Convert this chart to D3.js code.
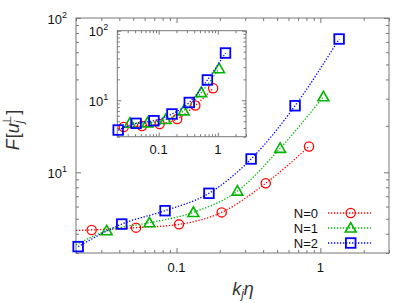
<!DOCTYPE html>
<html><head><meta charset="utf-8">
<script src="https://cdn.jsdelivr.net/npm/d3@7"></script>
<style>
body{margin:0;background:#fff;}
svg{display:block;}
text{font-family:"Liberation Sans",Arial,sans-serif;}
</style></head>
<body>
<svg id="c" width="399" height="303"></svg>
<script>
// ---- data ----
const seriesNames = ["N=0", "N=1", "N=2"];
const kN0 = [0.0257, 0.0523, 0.104, 0.206, 0.417, 0.834];
const FN0 = [4.23, 4.38, 4.60, 5.50, 8.49, 14.7];
const kN1 = [0.0327, 0.0648, 0.131, 0.265, 0.525, 1.05];
const FN1 = [4.18, 4.71, 5.50, 7.56, 14.3, 30.9];
const kN2 = [0.0207, 0.0416, 0.0832, 0.168, 0.330, 0.667, 1.35];
const FN2 = [3.30, 4.62, 5.64, 7.31, 12.2, 27.0, 73.1];
// left-edge start of the dotted curves in the main panel
const lineStartK = 0.02;
const lineStartN0 = 4.2;
const lineStartN1 = 3.4;
// inset values
const insetFN0 = [4.13, 4.27, 4.56, 5.39, 8.42, 14.9];
const insetFN1 = [4.70, 4.75, 5.30, 7.06, 12.9, 28.5];
const insetFN2 = [3.74, 4.67, 5.09, 6.36, 9.30, 19.6, 47.8];
// ticks
const xMajor = [0.1, 1];
const xMajorLabels = ["0.1", "1"];
const xMinor = [0.02,0.03,0.04,0.05,0.06,0.07,0.08,0.09,0.2,0.3,0.4,0.5,0.6,0.7,0.8,0.9,2,3];
const yMajor = [10, 100];
const yMajorExp = ["1", "2"];
const yMinor = [3,4,5,6,7,8,9,20,30,40,50,60,70,80,90];

const colors = ["#ff0000", "#00b400", "#0000ff"];
const shapes = ["circle", "triangle", "square"];

const svg = d3.select("#c");

const x = d3.scaleLog().domain([0.02, 3]).range([76, 389]);
const y = d3.scaleLog().domain([3, 100]).range([253, 18]);
const xi = d3.scaleLog().domain([0.02, 3]).range([117.3, 246]);
const yi = d3.scaleLog().domain([3, 100]).range([136.7, 30.7]);

function frame(g, xs, ys, major, minor) {
  const [x0, x1] = xs.range(), [y0, y1] = ys.range();
  g.append("rect").attr("x", x0).attr("y", y1).attr("width", x1 - x0).attr("height", y0 - y1)
    .attr("fill", "#fff").attr("stroke", "none");
  const mk = (axisFn, scale, vals, size, tr) => {
    const a = g.append("g").attr("transform", tr)
      .call(axisFn(scale).tickValues(vals).tickSize(size).tickFormat(""));
    a.select(".domain").remove();
    a.selectAll("line").attr("stroke", "#777").attr("stroke-width", 1);
  };
  mk(d3.axisBottom, xs, xMajor, -major, `translate(0,${y0})`);
  mk(d3.axisBottom, xs, xMinor, -minor, `translate(0,${y0})`);
  mk(d3.axisTop, xs, xMajor, -major, `translate(0,${y1})`);
  mk(d3.axisTop, xs, xMinor, -minor, `translate(0,${y1})`);
  mk(d3.axisLeft, ys, yMajor, -major, `translate(${x0},0)`);
  mk(d3.axisLeft, ys, yMinor, -minor, `translate(${x0},0)`);
  mk(d3.axisRight, ys, yMajor, -major, `translate(${x1},0)`);
  mk(d3.axisRight, ys, yMinor, -minor, `translate(${x1},0)`);
  g.append("rect").attr("x", x0).attr("y", y1).attr("width", x1 - x0).attr("height", y0 - y1)
    .attr("fill", "none").attr("stroke", "#777").attr("stroke-width", 1);
  xMajor.forEach((v, i) => {
    g.append("text").attr("x", xs(v)).attr("y", y0 + (xs === x ? 19 : 17))
      .attr("text-anchor", "middle").attr("font-size", 13).attr("fill", "#111").text(xMajorLabels[i]);
  });
  yMajor.forEach((v, i) => {
    const t = g.append("text").attr("x", x0 - 9).attr("y", ys(v) + 5.5)
      .attr("text-anchor", "end").attr("font-size", 13).attr("fill", "#111");
    t.append("tspan").text("10");
    t.append("tspan").attr("font-size", 9).attr("dy", -6).text(yMajorExp[i]);
  });
}

function marker(g, shape, cx, cy, color) {
  if (shape === "circle") {
    g.append("circle").attr("cx", cx).attr("cy", cy).attr("r", 4.6)
      .attr("fill", "none").attr("stroke", color).attr("stroke-width", 1.3);
  } else if (shape === "square") {
    g.append("rect").attr("x", cx - 4.8).attr("y", cy - 4.8).attr("width", 9.6).attr("height", 9.6)
      .attr("fill", "none").attr("stroke", color).attr("stroke-width", 1.8);
  } else {
    const s = 5.4;
    g.append("path").attr("d", `M${cx},${cy - s}L${cx + s},${cy + s * 0.75}L${cx - s},${cy + s * 0.75}Z`)
      .attr("fill", "none").attr("stroke", color).attr("stroke-width", 1.6);
  }
}

function drawSeries(g, xs, ys, ks, Fs, color, shape, start, clipId) {
  const pts = ks.map((k, i) => [k, Fs[i]]);
  const linePts = start != null ? [[lineStartK, start]].concat(pts) : pts;
  const line = d3.line().x(d => xs(d[0])).y(d => ys(d[1])).curve(d3.curveMonotoneX);
  g.append("path").attr("d", line(linePts)).attr("fill", "none").attr("stroke", color)
    .attr("stroke-width", 1.3).attr("stroke-dasharray", "1.3 1.7")
    .attr("clip-path", clipId ? `url(#${clipId})` : null);
  pts.forEach(p => marker(g, shape, xs(p[0]), ys(p[1]), color));
}

svg.append("clipPath").attr("id", "mclip").append("rect")
  .attr("x", 76).attr("y", 18).attr("width", 313).attr("height", 235);

const main = svg.append("g");
frame(main, x, y, 5, 3);
const mainData = [[kN0, FN0, lineStartN0], [kN1, FN1, lineStartN1], [kN2, FN2, null]];
mainData.forEach((d, i) => drawSeries(main, x, y, d[0], d[1], colors[i], shapes[i], d[2], "mclip"));

const inset = svg.append("g");
frame(inset, xi, yi, 4, 2.5);
const insetData = [[kN0, insetFN0], [kN1, insetFN1], [kN2, insetFN2]];
insetData.forEach((d, i) => drawSeries(inset, xi, yi, d[0], d[1], colors[i], shapes[i], null, null));

// legend
const legY = [213, 228, 243];
seriesNames.forEach((n, i) => {
  svg.append("text").attr("x", 318).attr("y", legY[i] + 4.7).attr("text-anchor", "end")
    .attr("font-size", 13).attr("fill", "#111").text(n);
  svg.append("line").attr("x1", 328).attr("x2", 371).attr("y1", legY[i]).attr("y2", legY[i])
    .attr("stroke", colors[i]).attr("stroke-width", 1.3).attr("stroke-dasharray", "1.3 1.7");
  marker(svg, shapes[i], 350.7, legY[i], colors[i]);
});

// axis titles
const serif = '"Liberation Serif","DejaVu Serif",serif';
const xt = svg.append("text").attr("x", 243).attr("y", 295).attr("text-anchor", "middle")
  .attr("font-family", serif).attr("font-style", "italic").attr("font-size", 18).attr("fill", "#333");
xt.append("tspan").text("k");
xt.append("tspan").attr("font-size", 12).attr("dy", 3).text("j");
xt.append("tspan").attr("dy", -3).text("η");

const yt = svg.append("text").attr("transform", "translate(19,130) rotate(-90)")
  .attr("text-anchor", "middle").attr("font-family", serif).attr("font-size", 18).attr("fill", "#333");
yt.append("tspan").attr("font-style", "italic").text("F");
yt.append("tspan").attr("dx", 1).text("[");
yt.append("tspan").attr("font-style", "italic").text("u");
yt.append("tspan").attr("font-style", "italic").attr("font-size", 12).attr("dy", 4).text("j");
yt.append("tspan").attr("font-size", 12).attr("dx", -5).attr("dy", -12).text("⊥");
yt.append("tspan").attr("dx", 1).attr("dy", 8).text("]");
</script>
</body></html>
